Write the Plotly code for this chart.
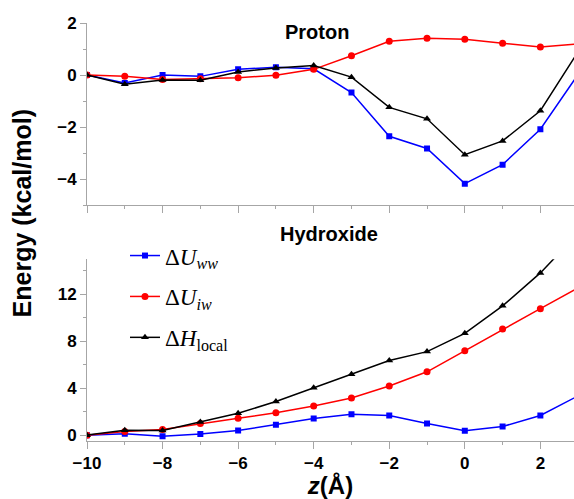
import plotly.graph_objects as go

# ---- data ----
z = [-10, -9, -8, -7, -6, -5, -4, -3, -2, -1, 0, 1, 2, 3]

proton_Uww = [0, -0.30, 0.00, -0.05, 0.22, 0.30, 0.24, -0.67, -2.35, -2.82, -4.17, -3.44, -2.08, 0.03]
proton_Uiw = [0, -0.05, -0.17, -0.14, -0.10, -0.01, 0.22, 0.74, 1.30, 1.41, 1.38, 1.22, 1.08, 1.20]
proton_H = [0, -0.35, -0.19, -0.20, 0.12, 0.27, 0.37, -0.08, -1.24, -1.68, -3.06, -2.53, -1.37, 0.90]

hydrox_Uww = [0, 0.12, -0.10, 0.10, 0.40, 0.88, 1.41, 1.78, 1.67, 0.99, 0.38, 0.73, 1.68, 3.35]
hydrox_Uiw = [0, 0.31, 0.48, 0.99, 1.44, 1.90, 2.49, 3.17, 4.19, 5.40, 7.20, 9.04, 10.78, 12.55]
hydrox_H = [0, 0.42, 0.40, 1.13, 1.86, 2.86, 4.04, 5.20, 6.36, 7.12, 8.68, 11.02, 13.83, 17.20]

series_names = ["Δ<i>U</i><sub><i>ww</i></sub>", "Δ<i>U</i><sub><i>iw</i></sub>", "Δ<i>H</i><sub>local</sub>"]
series_colors = ["#0000ff", "#ff0000", "#000000"]
series_symbols = ["square", "circle", "triangle-up"]
series_sizes = [6, 7, 7]

panel_titles = ["Proton", "Hydroxide"]

fig = go.Figure()

top = [proton_Uww, proton_Uiw, proton_H]
bot = [hydrox_Uww, hydrox_Uiw, hydrox_H]

for i in range(3):
    fig.add_trace(go.Scatter(
        x=z, y=top[i], xaxis="x", yaxis="y", mode="lines+markers",
        line=dict(color=series_colors[i], width=1.5),
        marker=dict(symbol=series_symbols[i], size=series_sizes[i], color=series_colors[i]),
        showlegend=False, legendgroup="g%d" % i,
    ))
for i in range(3):
    fig.add_trace(go.Scatter(
        x=z, y=bot[i], xaxis="x2", yaxis="y2", mode="lines+markers",
        name=series_names[i],
        line=dict(color=series_colors[i], width=1.5),
        marker=dict(symbol=series_symbols[i], size=series_sizes[i], color=series_colors[i]),
        showlegend=True, legendgroup="g%d" % i,
    ))

axcol = "#a6a6a6"
tickfont = dict(family="Liberation Sans", size=17, color="black", weight="bold")

common_x = dict(
    range=[-10, 2.89], showgrid=False, zeroline=False, showline=True, linecolor=axcol, linewidth=1,
    ticks="outside", tickcolor=axcol, ticklen=7, tickwidth=1, tick0=-10, dtick=2,
    minor=dict(ticks="outside", ticklen=3, tickcolor=axcol, dtick=1, tick0=-10, showgrid=False),
    tickfont=tickfont,
)
common_y = dict(
    showgrid=False, zeroline=False, showline=True, linecolor=axcol, linewidth=1,
    ticks="outside", tickcolor=axcol, ticklen=6, tickwidth=1, tickfont=tickfont,
)

fig.update_layout(
    width=574, height=499,
    margin=dict(l=87, r=0, t=23, b=58),
    paper_bgcolor="white", plot_bgcolor="white",
    xaxis=dict(common_x, domain=[0, 1], anchor="y", showticklabels=False),
    yaxis=dict(common_y, domain=[0.564, 1], anchor="x", range=[-5, 2], tick0=0, dtick=2,
               minor=dict(ticks="outside", ticklen=3, tickcolor=axcol, dtick=1, tick0=0, showgrid=False)),
    xaxis2=dict(common_x, domain=[0, 1], anchor="y2",
                title=dict(text="<i>z</i>(Å)", font=dict(family="Liberation Sans", size=24, color="black", weight="bold"),
                           standoff=6)),
    yaxis2=dict(common_y, domain=[0, 0.435], anchor="x2", range=[-0.5, 15], tick0=0, dtick=4,
                minor=dict(ticks="outside", ticklen=3, tickcolor=axcol, dtick=2, tick0=0, showgrid=False)),
    legend=dict(x=0.078, y=0.495, xanchor="left", yanchor="top", bgcolor="rgba(0,0,0,0)",
                font=dict(family="Liberation Serif", size=23, color="black"),
                tracegroupgap=8, traceorder="grouped"),
    annotations=[
        dict(text=panel_titles[0], xref="paper", yref="paper", x=0.472, y=0.9785, xanchor="center", yanchor="middle",
             showarrow=False, font=dict(family="Liberation Sans", size=20, color="black", weight="bold")),
        dict(text=panel_titles[1], xref="paper", yref="paper", x=0.497, y=0.495, xanchor="center", yanchor="middle",
             showarrow=False, font=dict(family="Liberation Sans", size=20, color="black", weight="bold")),
        dict(text="Energy (kcal/mol)", xref="paper", yref="paper", x=-0.133, y=0.545, xanchor="center", yanchor="middle",
             textangle=-90, showarrow=False, font=dict(family="Liberation Sans", size=25, color="black", weight="bold")),
    ],
)

fig.write_html("out.html", config={"displayModeBar": False},
               post_script="document.body.style.margin='0';document.body.style.overflow='hidden';")
